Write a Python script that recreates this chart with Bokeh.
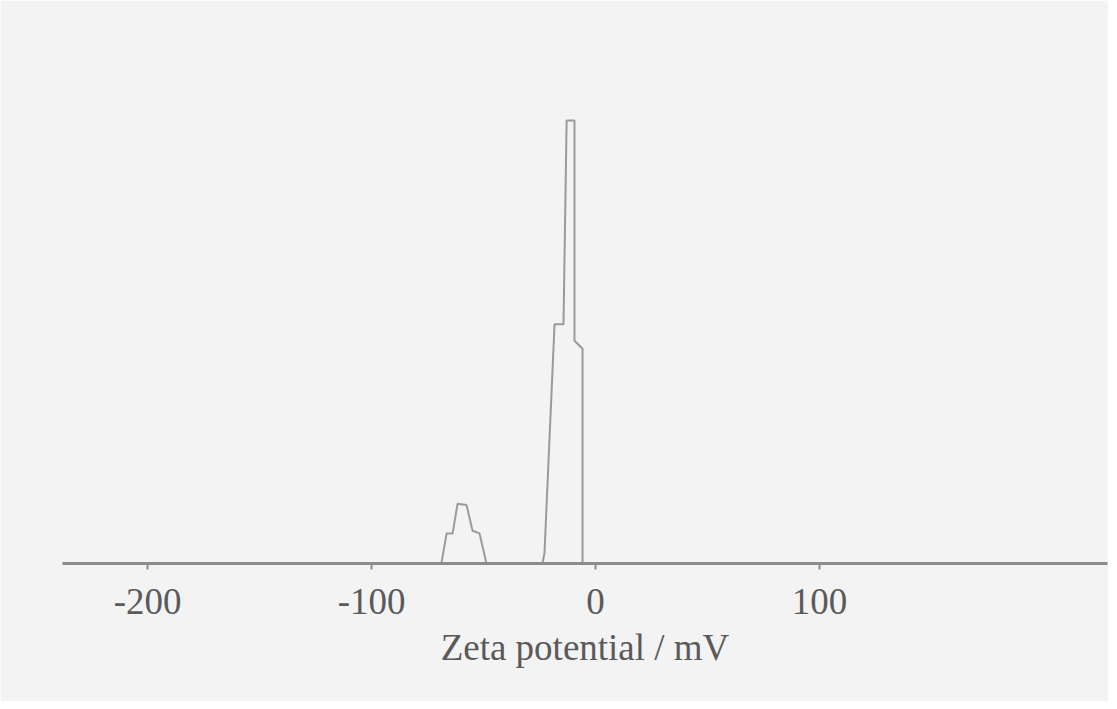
from bokeh.plotting import figure
from bokeh.models import FixedTicker, Range1d
from bokeh.embed import file_html
from bokeh.resources import INLINE

# Zeta potential distribution (mV) and relative intensity
zeta_mv = [-238, -68.8, -66.5, -63.8, -61.6, -57.6, -54.9, -51.8, -48.7,
           -23.7, -22.8, -18.3, -14.3, -12.9, -9.4, -9.4, -5.8, -5.8, 228]
intensity = [0, 0, 6.8, 6.8, 13.5, 13.2, 7.4, 6.8, 0,
             0, 2.3, 54, 54, 100, 100, 50.3, 48.5, 0, 0]
tick_values = [-200, -100, 0, 100]
tick_labels = ["-200", "-100", "0", "100"]
x_label = "Zeta potential / mV"

bg = "#f3f3f3"
p = figure(width=1108, height=701, output_backend="svg", toolbar_location=None,
           x_range=Range1d(-238, 228.6), y_range=Range1d(0, 125.3),
           y_axis_type=None, min_border_left=62, min_border_right=1,
           min_border_top=8, min_border_bottom=138,
           background_fill_color=bg, border_fill_color=bg)
p.outline_line_color = None
p.grid.visible = False

p.line(zeta_mv, intensity, line_color="#9a9a9a", line_width=2)

ax = p.xaxis[0]
ax.ticker = FixedTicker(ticks=tick_values)
ax.major_label_overrides = dict(zip(tick_values, tick_labels))
ax.axis_label = x_label
ax.axis_line_color = "#8c8c8c"
ax.axis_line_width = 3
ax.major_tick_in = 0
ax.major_tick_out = 6
ax.major_tick_line_color = "#8c8c8c"
ax.major_tick_line_width = 2
ax.minor_tick_line_color = None
ax.major_label_text_font = "Liberation Serif"
ax.major_label_text_font_size = "37px"
ax.major_label_text_color = "#5a5a5a"
ax.major_label_standoff = 19
ax.axis_label_text_font = "Liberation Serif"
ax.axis_label_text_font_size = "37px"
ax.axis_label_text_font_style = "normal"
ax.axis_label_text_color = "#5a5a5a"
ax.axis_label_standoff = 10

open("out.html", "w").write(file_html(p, INLINE))
